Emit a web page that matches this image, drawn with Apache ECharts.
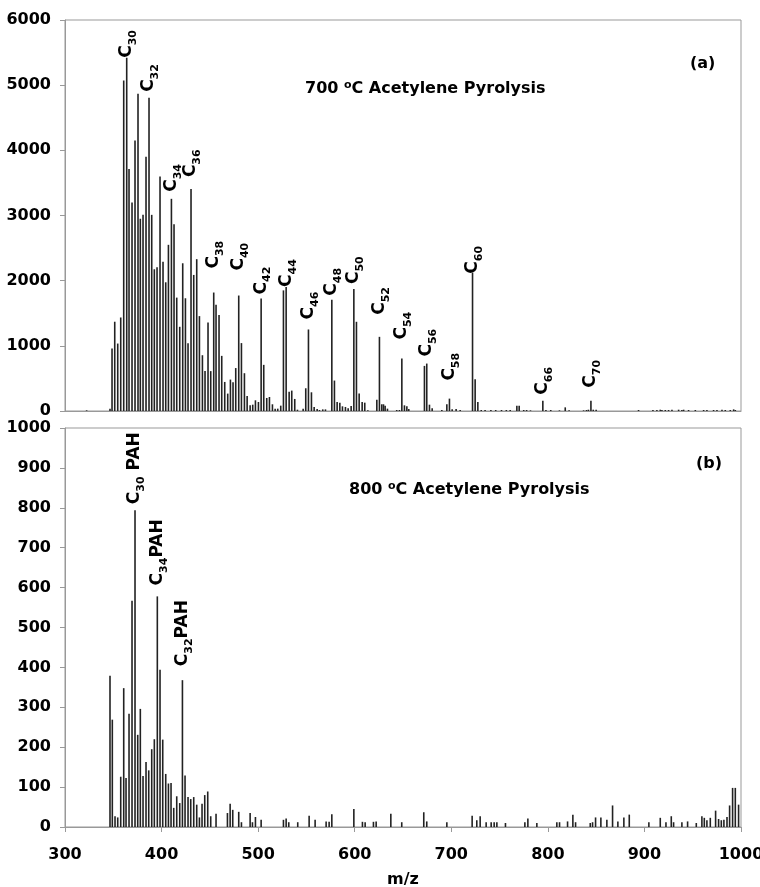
<!DOCTYPE html>
<html>
<head>
<meta charset="utf-8">
<script src="https://cdn.jsdelivr.net/npm/echarts@6/dist/echarts.min.js"></script>
<style>
    html, body { margin: 0; padding: 0; background: #fff; }
    #chart { width: 760px; height: 887px; }
</style>
</head>
<body>
<div id="chart"></div>
<script>
// panel (a): 700 C pyrolysis, m/z and intensity
const mzA = [
    322.4, 346.6, 348.7, 351.5, 354.6, 357.7, 360.8, 363.9, 366.3, 369.4,
    372.5, 375.6, 378.0, 380.8, 383.9, 387.0, 389.8, 392.5, 395.3, 398.4,
    401.5, 404.3, 407.1, 410.2, 412.9, 415.7, 418.8, 421.9, 424.7, 427.4,
    430.5, 433.3, 436.4, 439.2, 442.3, 445.0, 448.1, 450.9, 454.0, 456.4,
    459.5, 462.3, 465.4, 468.5, 471.3, 474.0, 476.8, 479.9, 482.7, 485.8,
    488.6, 491.7, 494.4, 497.2, 500.3, 503.1, 505.8, 508.9, 511.7, 514.8,
    517.6, 520.3, 523.4, 526.2, 529.0, 532.1, 534.8, 537.9, 540.7, 546.6,
    549.3, 552.1, 555.2, 558.0, 561.1, 563.5, 566.9, 569.7, 576.3, 579.0,
    581.8, 584.6, 587.3, 590.4, 593.2, 596.3, 599.1, 601.8, 604.6, 607.7,
    610.4, 613.6, 622.9, 625.6, 628.0, 629.8, 631.5, 633.9, 643.5, 646.3,
    648.8, 651.5, 654.0, 656.0, 672.2, 674.6, 677.4, 680.2, 690.2, 695.4,
    698.1, 700.9, 705.0, 709.2, 722.0, 724.7, 727.5, 731.0, 735.0, 741.0,
    746.0, 752.0, 757.0, 761.0, 767.9, 770.3, 775.0, 778.0, 782.0, 794.8,
    798.0, 803.0, 812.0, 818.0, 822.0, 837.0, 840.0, 842.0, 844.6, 847.0,
    850.0, 893.9, 908.8, 912.9, 916.4, 918.1, 921.6, 925.0, 928.5, 935.4,
    938.8, 940.6, 945.7, 952.7, 961.3, 964.7, 971.6, 975.1, 980.3, 983.7,
    988.9, 992.4, 994.1
];
const intA = [
    10, 36, 960, 1370, 1035, 1435, 5070, 5420, 3713, 3200,
    4150, 4867, 2950, 3010, 3900, 4805, 3010, 2175, 2205, 3600,
    2290, 1975, 2550, 3256, 2867, 1740, 1292, 2267, 1730, 1040,
    3405, 2088, 2330, 1456, 856, 615, 1359, 612, 1818, 1630,
    1472, 846, 446, 267, 482, 441, 659, 1772, 1042, 580,
    231, 87, 97, 164, 138, 1728, 708, 200, 215, 103,
    36, 36, 82, 1851, 1903, 297, 313, 185, 20, 36,
    349, 1251, 287, 62, 30, 15, 25, 25, 1708, 467,
    138, 128, 72, 62, 41, 77, 1872, 1369, 267, 138,
    128, 10, 174, 1138, 103, 103, 82, 36, 15, 15,
    805, 87, 72, 30, 692, 728, 97, 41, 15, 103,
    190, 25, 30, 15, 2123, 487, 138, 15, 15, 15,
    15, 15, 15, 15, 82, 82, 15, 15, 10, 159,
    15, 15, 10, 56, 10, 10, 15, 20, 159, 20,
    20, 15, 15, 15, 20, 15, 15, 15, 20, 20,
    15, 20, 15, 15, 15, 15, 15, 15, 20, 15,
    15, 25, 15
];
// labelled peaks of panel (a)
const peakMzA = [363.9, 387.0, 410.2, 430.5, 454.0, 479.9, 503.1, 529.0, 552.1, 576.3, 599.1, 625.6, 648.8, 674.6, 698.1, 722.0, 794.8, 844.6];
const peakNameA = ["30", "32", "34", "36", "38", "40", "42", "44", "46", "48", "50", "52", "54", "56", "58", "60", "66", "70"];

// panel (b): 800 C pyrolysis
const mzB = [
    346.6, 349.0, 351.8, 354.6, 357.7, 360.8, 363.2, 366.3, 369.4, 372.5,
    375.3, 378.0, 380.8, 383.9, 386.7, 389.8, 392.5, 395.6, 398.4, 401.2,
    404.3, 407.1, 409.8, 412.6, 415.7, 418.8, 421.6, 424.3, 427.4, 430.2,
    433.3, 436.4, 439.2, 441.9, 444.7, 447.8, 450.9, 456.4, 468.2, 471.0,
    473.7, 479.9, 482.7, 491.7, 494.1, 497.2, 503.1, 526.2, 529.0, 531.7,
    541.0, 552.8, 559.0, 570.4, 573.5, 576.3, 599.1, 608.0, 610.8, 619.4,
    622.2, 637.4, 648.7, 671.5, 674.6, 695.4, 721.6, 726.4, 729.9, 736.1,
    741.3, 744.4, 747.2, 756.1, 776.2, 779.3, 788.6, 809.3, 812.1, 820.4,
    825.9, 828.7, 843.9, 846.3, 849.4, 854.9, 861.1, 867.0, 872.5, 878.7,
    884.3, 904.6, 916.4, 922.3, 927.8, 930.2, 938.8, 944.7, 953.7, 959.5,
    962.0, 964.7, 968.2, 973.7, 976.8, 979.6, 982.3, 985.5, 988.2, 991.3,
    994.1, 997.5
];
const intB = [
    379, 269, 27, 24, 126, 348, 123, 284, 567, 794,
    231, 296, 128, 163, 142, 195, 220, 578, 394, 219,
    133, 109, 110, 48, 77, 60, 368, 129, 75, 70,
    75, 56, 24, 58, 80, 89, 27, 33, 35, 58,
    43, 38, 12, 35, 12, 25, 18, 18, 21, 12,
    12, 28, 18, 14, 13, 32, 45, 13, 12, 13,
    14, 33, 12, 37, 14, 12, 28, 17, 27, 12,
    12, 12, 12, 10, 12, 21, 10, 12, 12, 14,
    31, 12, 10, 12, 24, 24, 18, 54, 14, 24,
    31, 12, 23, 12, 27, 12, 12, 14, 10, 27,
    23, 17, 23, 41, 20, 17, 18, 25, 54, 98,
    98, 56
];
const peakMzB = [372.5, 395.6, 421.6];
const peakNameB = [["30", " PAH"], ["34", "PAH"], ["32", "PAH"]];

// how far each label floats above its bar, and small sideways shifts
const gapA = [1, 2, 6, 11, 26, 26, 6, 5, 10, 6, 7, 22, 15, 5, 18, 1, 7, 13];
const shiftA = [-1, 4, 1, 1, -2, -1, -2, -5, 0, -2, -2, 0, 4, 2, 0, -2, -1, 0];
const gapB = [5, 8, 12];
const shiftB = [1, 3, 2];

const FONT = "DejaVu Sans";
const GRAY = "#999";

const richStyle = {
    c: { fontFamily: FONT, fontWeight: "bold", fontSize: 17, color: "#000", lineHeight: 24 },
    s: { fontFamily: FONT, fontWeight: "bold", fontSize: 11, color: "#000", lineHeight: 11, verticalAlign: "bottom" }
};

function buildData(mz, vals, peaks, makeLabel) {
    let out = [];
    for (let i = 0; i < mz.length; i++) {
        let k = peaks.indexOf(mz[i]);
        if (k >= 0) {
            out.push({ value: [mz[i], vals[i]], label: makeLabel(k) });
        } else {
            out.push([mz[i], vals[i]]);
        }
    }
    return out;
}

const dataA = buildData(mzA, intA, peakMzA, function (k) {
    return {
        show: true,
        formatter: "{c|C}{s|" + peakNameA[k] + "}",
        distance: gapA[k],
        offset: [shiftA[k], 0]
    };
});
const dataB = buildData(mzB, intB, peakMzB, function (k) {
    return {
        show: true,
        formatter: "{c|C}{s|" + peakNameB[k][0] + "}{c|" + peakNameB[k][1] + "}",
        distance: gapB[k],
        offset: [shiftB[k], 0]
    };
});

const barLabel = {
    show: false,
    position: "top",
    rotate: 90,
    align: "left",
    verticalAlign: "middle",
    rich: richStyle
};

const axisText = { fontFamily: FONT, fontWeight: "bold", fontSize: 16, color: "#000" };
const plainNum = function (v) { return String(v); };

const titleRich = {
    t: { fontFamily: FONT, fontWeight: "bold", fontSize: 16, color: "#000", lineHeight: 18 },
    o: { fontFamily: FONT, fontWeight: "bold", fontSize: 11, color: "#000", verticalAlign: "top", lineHeight: 10, padding: [0, 0, 4, 0] }
};

let chart = echarts.init(document.getElementById("chart"));
chart.setOption({
    animation: false,
    backgroundColor: "#fff",
    title: [
        { text: "{t|700 }{o|o}{t|C Acetylene Pyrolysis}", left: 305, top: 80, padding: 0, textStyle: { rich: titleRich } },
        { text: "{t|800 }{o|o}{t|C Acetylene Pyrolysis}", left: 349, top: 481, padding: 0, textStyle: { rich: titleRich } },
        { text: "(a)", left: 690, top: 56, padding: 0, textStyle: axisText },
        { text: "(b)", left: 696, top: 456, padding: 0, textStyle: axisText }
    ],
    grid: [
        { left: 65, right: 19, top: 20, height: 391, show: true, borderColor: GRAY, borderWidth: 1, outerBoundsMode: "none" },
        { left: 65, right: 19, top: 428, height: 399, show: true, borderColor: GRAY, borderWidth: 1, outerBoundsMode: "none" }
    ],
    xAxis: [
        {
            type: "value", gridIndex: 0, min: 300, max: 1000, interval: 100,
            axisLine: { lineStyle: { color: GRAY } },
            axisTick: { show: false },
            axisLabel: { show: false },
            splitLine: { show: false }
        },
        {
            type: "value", gridIndex: 1, min: 300, max: 1000, interval: 100,
            name: "m/z", nameLocation: "middle", nameGap: 45,
            nameTextStyle: axisText,
            axisLine: { lineStyle: { color: GRAY } },
            axisTick: { show: true, length: 5, lineStyle: { color: GRAY } },
            axisLabel: Object.assign({ margin: 20, formatter: plainNum }, axisText),
            splitLine: { show: false }
        }
    ],
    yAxis: [
        {
            type: "value", gridIndex: 0, min: 0, max: 6000, interval: 1000,
            axisLine: { show: true, lineStyle: { color: GRAY } },
            axisTick: { show: true, length: 5, lineStyle: { color: GRAY } },
            axisLabel: Object.assign({ margin: 14, formatter: plainNum }, axisText),
            splitLine: { show: false }
        },
        {
            type: "value", gridIndex: 1, min: 0, max: 1000, interval: 100,
            axisLine: { show: true, lineStyle: { color: GRAY } },
            axisTick: { show: true, length: 5, lineStyle: { color: GRAY } },
            axisLabel: Object.assign({ margin: 14, formatter: plainNum }, axisText),
            splitLine: { show: false }
        }
    ],
    series: [
        {
            type: "bar", xAxisIndex: 0, yAxisIndex: 0,
            barWidth: 1.6,
            itemStyle: { color: "#222" },
            label: barLabel,
            data: dataA
        },
        {
            type: "bar", xAxisIndex: 1, yAxisIndex: 1,
            barWidth: 1.6,
            itemStyle: { color: "#222" },
            label: barLabel,
            data: dataB
        }
    ]
});
</script>
</body>
</html>
